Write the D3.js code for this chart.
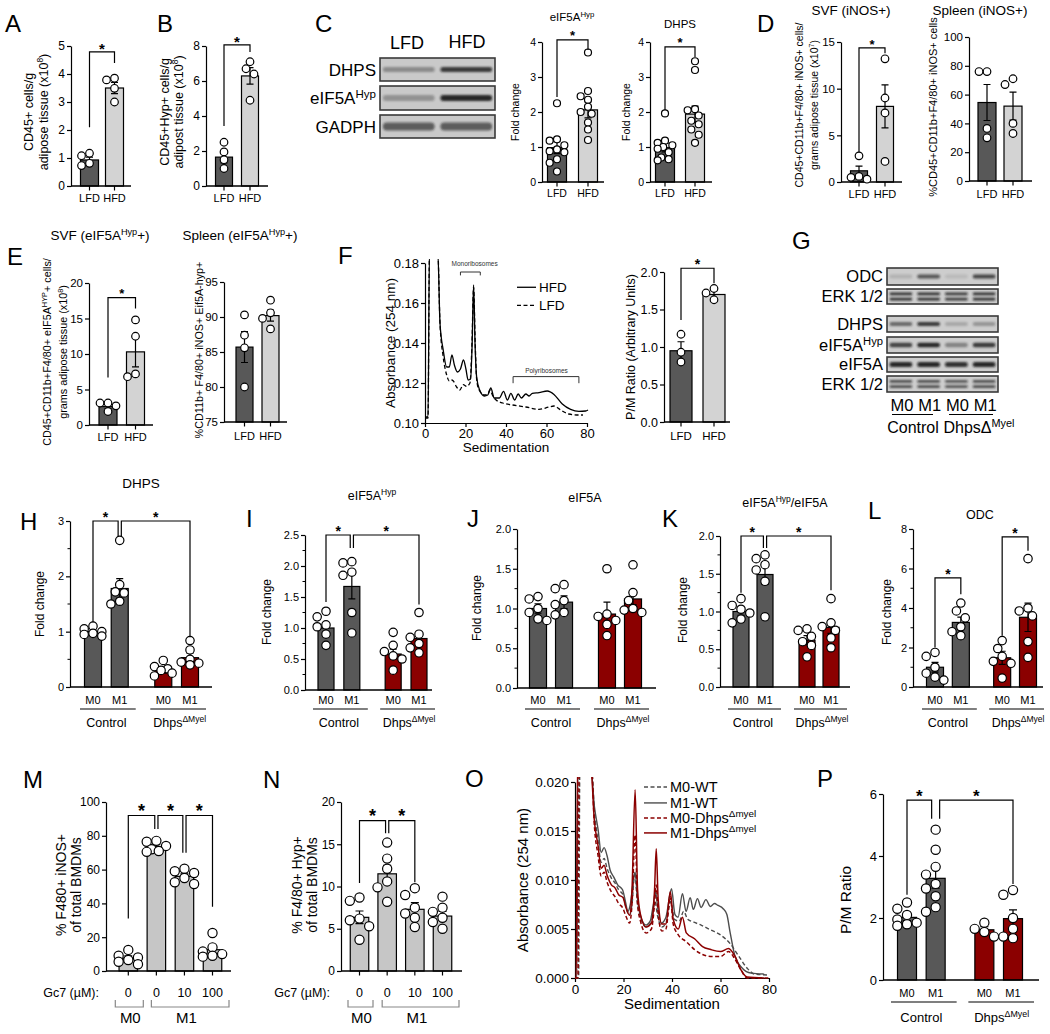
<!DOCTYPE html>
<html><head><meta charset="utf-8">
<script src="https://cdn.jsdelivr.net/npm/d3@7"></script>
<style>body{margin:0;background:#fff}svg{display:block}</style>
</head><body>
<svg id="fig" width="1050" height="1034"></svg>
<script>
// ================= DATA =================
const dietCats = ["LFD", "HFD"];
const aMeans = [0.93, 3.50], aSem = [0.10, 0.20];
const aPts = [[1.17, 1.08, 0.81, 0.73], [3.85, 3.79, 3.49, 3.00]];
const bMeans = [1.65, 6.29], bSem = [0.33, 0.47];
const bPts = [[2.50, 1.95, 1.50, 1.00], [7.10, 6.70, 6.40, 4.90]];
const cBlotRows = ["DHPS", "eIF5A^{Hyp}", "GADPH"];
const cBlotDark = [[0.35, 0.80], [0.30, 0.90], [0.60, 0.60]];
const c1Means = [0.98, 2.06], c1Sem = [0.17, 0.23];
const c1Pts = [[2.25, 1.22, 1.18, 1.05, 0.93, 0.88, 0.85, 0.65, 0.55, 0.30], [3.70, 2.60, 2.45, 2.35, 2.15, 2.00, 1.95, 1.70, 1.50, 1.20]];
const c2Means = [0.98, 1.94], c2Sem = [0.12, 0.23];
const c2Pts = [[1.96, 1.18, 1.12, 1.05, 1.00, 0.95, 0.85, 0.70, 0.65, 0.62], [3.45, 3.20, 2.08, 2.05, 1.90, 1.75, 1.65, 1.50, 1.35, 1.12]];
const d1Means = [1.2, 8.1], d1Sem = [0.5, 2.3];
const d1Pts = [[2.8, 0.6, 0.5, 0.3], [13.2, 9.0, 7.4, 2.2]];
const d2Means = [54.5, 52.0], d2Sem = [12.5, 9.7];
const d2Pts = [[76, 76, 36.5, 30], [71, 67, 40, 33]];
const e1Means = [2.6, 10.3], e1Sem = [0.3, 2.1];
const e1Pts = [[3.1, 3.1, 2.7, 1.9], [14.8, 12.5, 7.2, 6.8]];
const e2Means = [85.7, 90.2], e2Sem = [2.2, 0.8];
const e2Pts = [[90.3, 87.4, 85.6, 80.0], [92.4, 90.6, 89.8, 88.3]];
const fHFD = [[0,0.103],[1.5,0.103],[2.2,0.186],[6.3,0.186],[7.4,0.150],[9,0.1365],[10.7,0.128],[12,0.128],[13.3,0.134],[14.5,0.129],[16,0.1255],[17.5,0.127],[19,0.1315],[20.2,0.127],[21.3,0.1215],[22.5,0.122],[23.3,0.140],[24,0.169],[24.7,0.140],[25.5,0.123],[27,0.1165],[29.3,0.1135],[31,0.114],[32.5,0.1175],[34.2,0.1125],[36.7,0.1125],[38.8,0.1158],[40.7,0.1115],[42.4,0.1148],[44.3,0.1115],[46,0.1145],[47.6,0.1125],[49.8,0.1145],[51.4,0.1135],[53,0.1148],[56.3,0.1152],[60.4,0.116],[63.7,0.1143],[67.8,0.1095],[71.9,0.1068],[76,0.1058],[79.3,0.106],[80.5,0.1065]];
const fLFD = [[0,0.1025],[1.5,0.1025],[2.2,0.186],[6.3,0.186],[7.4,0.150],[9,0.133],[10.7,0.124],[12,0.121],[13.1,0.1215],[14,0.121],[15.6,0.118],[17.2,0.1165],[18.9,0.1192],[20.5,0.1183],[22.2,0.120],[23.2,0.140],[24,0.168],[24.8,0.140],[25.5,0.122],[26.5,0.117],[29.3,0.114],[31,0.1145],[32.1,0.1165],[33.5,0.1135],[35.1,0.1115],[38.4,0.110],[43.3,0.109],[49.8,0.108],[56.3,0.1068],[61.2,0.108],[63.7,0.1085],[67,0.1065],[71,0.1045],[76,0.104],[78,0.104]];
const fbMeans = [0.95, 1.70], fbSem = [0.12, 0.05];
const fbPts = [[1.17, 0.93, 0.80], [1.78, 1.72, 1.63]];
const gLanes = ["M0", "M1", "M0", "M1"];
const gRows = ["ODC", "ERK 1/2", "DHPS", "eIF5A^{Hyp}", "eIF5A", "ERK 1/2"];
const gDark = [[0.15, 0.65, 0.10, 0.75], [0.85, 0.85, 0.80, 0.85], [0.55, 0.80, 0.20, 0.30], [0.75, 0.90, 0.40, 0.80], [0.90, 0.90, 0.85, 0.90], [0.70, 0.70, 0.65, 0.70]];
const mCats = ["M0", "M1", "M0", "M1"];
const mGroups = ["Control", "Dhps^{ΔMyel}"];
const hMeans = [1.00, 1.78, 0.30, 0.53], hSem = [0.03, 0.18, 0.05, 0.08];
const hPts = [[1.10, 1.05, 1.00, 0.97, 0.95, 0.92], [2.65, 1.85, 1.72, 1.70, 1.55, 1.50], [0.48, 0.37, 0.33, 0.30, 0.25, 0.20], [0.84, 0.67, 0.50, 0.45, 0.43, 0.40]];
const iMeans = [1.00, 1.67, 0.58, 0.83], iSem = [0.08, 0.20, 0.08, 0.08];
const iPts = [[1.27, 1.18, 1.05, 1.02, 0.90, 0.72], [2.07, 2.05, 1.90, 1.85, 1.25, 0.92], [0.93, 0.72, 0.62, 0.55, 0.50, 0.32], [1.25, 0.90, 0.85, 0.75, 0.68, 0.60]];
const jMeans = [1.00, 1.08, 0.93, 1.12], jSem = [0.06, 0.08, 0.15, 0.07];
const jPts = [[1.15, 1.12, 1.00, 0.95, 0.87, 0.85], [1.30, 1.25, 1.10, 1.05, 0.95, 0.92], [1.50, 0.93, 0.90, 0.85, 0.80, 0.66], [1.55, 1.20, 1.10, 1.00, 0.98, 0.95]];
const kMeans = [1.00, 1.49, 0.62, 0.79], kSem = [0.05, 0.13, 0.06, 0.08];
const kPts = [[1.17, 1.08, 1.03, 0.98, 0.90, 0.85], [1.75, 1.70, 1.62, 1.55, 1.40, 0.93], [0.77, 0.75, 0.67, 0.60, 0.55, 0.40], [1.17, 0.85, 0.80, 0.75, 0.65, 0.52]];
const lMeans = [1.00, 3.27, 1.48, 3.53], lSem = [0.25, 0.27, 0.33, 0.72];
const lPts = [[1.75, 1.55, 1.00, 0.70, 0.50, 0.35], [4.25, 3.85, 3.50, 3.05, 2.80, 2.60], [2.35, 1.95, 1.55, 1.30, 1.20, 0.45], [6.50, 4.00, 3.85, 3.60, 2.30, 1.50]];
const gc7Cats = ["0", "0", "10", "100"];
const gc7Groups = ["M0", "M1"];
const mMeans = [7.6, 73.5, 56.0, 12.6], mSem = [1.3, 1.2, 1.5, 2.2];
const mPts = [[12.5, 9.0, 8.0, 6.5, 5.5, 4.0], [77.0, 76.5, 74.0, 72.0, 71.0, 70.5], [60.5, 59.0, 58.0, 55.0, 52.5, 51.5], [22.5, 14.0, 11.5, 10.0, 9.0, 8.5]];
const nMeans = [6.35, 11.5, 7.3, 6.5], nSem = [0.75, 1.0, 0.8, 0.55];
const nPts = [[8.7, 8.3, 6.2, 6.0, 5.3, 3.7], [15.2, 13.3, 12.1, 10.6, 9.9, 8.2], [9.8, 9.0, 7.5, 6.8, 6.3, 5.2], [8.8, 7.5, 7.0, 6.3, 5.8, 5.0]];
const oNames = ["M0-WT", "M1-WT", "M0-Dhps^{Δmyel}", "M1-Dhps^{Δmyel}"];
const oM0WT = [[0,0],[1.5,0],[2,0.0215],[6.8,0.0215],[8,0.017],[9.5,0.014],[10.8,0.0118],[12,0.0122],[13.2,0.0112],[15,0.0102],[16.5,0.0097],[18,0.009],[19.8,0.0085],[21,0.0072],[22.5,0.0064],[23.5,0.0075],[24.7,0.0108],[25.6,0.008],[27,0.0062],[29.3,0.0052],[31.5,0.0057],[33,0.0078],[34,0.0064],[35.8,0.0052],[37.5,0.0056],[39.5,0.0078],[41,0.006],[43,0.0058],[44.8,0.0068],[46.5,0.006],[49,0.0057],[52,0.0054],[56,0.0049],[60,0.0044],[64,0.0035],[67.6,0.0022],[71,0.001],[74,0.0004],[80,0.0003]];
const oM1WT = [[0,0],[0.8,0],[1.2,0.0215],[6.5,0.0215],[8,0.0175],[9.5,0.0152],[10.8,0.0128],[12,0.0133],[13.2,0.0125],[14.5,0.011],[16,0.0103],[17.6,0.0095],[19.6,0.009],[20.8,0.0078],[21.8,0.0068],[22.8,0.0075],[24,0.0098],[24.8,0.0108],[25.6,0.0085],[26.8,0.0065],[29.3,0.0054],[31,0.0058],[32.3,0.0075],[33.2,0.0088],[34.2,0.007],[35.6,0.0056],[37.5,0.0062],[39.8,0.0091],[41.2,0.0065],[42.5,0.0062],[44.3,0.0086],[45.8,0.0068],[47.5,0.0082],[48.8,0.007],[50.5,0.0081],[52,0.0072],[54,0.008],[55.8,0.0073],[57.5,0.0076],[59,0.0074],[61,0.0071],[62.6,0.0065],[64,0.0046],[66,0.0022],[69,0.001],[72.6,0.0005],[78,0.0004]];
const oM0KO = [[0,0],[1.2,0],[1.7,0.0215],[6.8,0.0215],[8,0.0155],[9.5,0.0125],[10.8,0.0104],[12,0.0108],[13.2,0.0098],[15,0.0088],[16.5,0.0083],[18,0.0076],[19.8,0.0071],[21,0.0063],[22.5,0.0056],[23.5,0.0075],[24.8,0.0146],[25.8,0.0075],[27,0.0058],[29.3,0.0046],[31.5,0.005],[32.8,0.0075],[33.5,0.0095],[34.3,0.0065],[35.8,0.0048],[37.5,0.005],[39.3,0.0083],[40.5,0.0055],[42.6,0.0044],[45.9,0.0037],[49.3,0.0029],[52.6,0.0024],[56,0.0022],[60,0.0022],[63.3,0.0027],[66,0.0019],[68.5,0.0008],[71,0],[80,0]];
const oM1KO = [[0,0],[0.5,0],[1,0.0215],[6.5,0.0215],[8,0.016],[9.5,0.0135],[10.8,0.0112],[12,0.0115],[13.2,0.0105],[15,0.0095],[16.5,0.0092],[18,0.0085],[19.8,0.0082],[21,0.0072],[22.5,0.0064],[23.5,0.009],[24.8,0.0192],[25.8,0.009],[27,0.0065],[29.3,0.0052],[31.5,0.0056],[32.8,0.009],[33.5,0.0132],[34.3,0.008],[35.8,0.0055],[37.5,0.0055],[39.3,0.0088],[40.5,0.006],[42.6,0.005],[44.3,0.0062],[45.9,0.0046],[49.3,0.004],[52.6,0.0032],[56,0.0029],[60,0.0027],[63.3,0.003],[66,0.0022],[68.5,0.0008],[71,0.0001],[78,0]];
const pMeans = [2.02, 3.28, 1.62, 1.98], pSem = [0.10, 0.32, 0.10, 0.28];
const pPts = [[2.5, 2.3, 2.1, 1.95, 1.85, 1.8, 1.75], [4.85, 4.2, 3.65, 3.4, 3.1, 2.95, 2.7, 2.35, 2.2], [1.85, 1.65, 1.55, 1.4], [2.9, 2.75, 2.0, 1.65, 1.4, 1.35]];

// ================= STYLE =================
const FONT = '"Liberation Sans", Arial, Helvetica, sans-serif';
const NARROW = '"Liberation Sans Narrow", "Liberation Sans", Arial, sans-serif';
const DARK = '#585858', LIGHT = '#d3d3d3', LIGHTM = '#c6c6c6', RED = '#8b0000', WTG = '#4d4d4d';
const svg = d3.select('#fig');
svg.append('rect').attr('width', 1050).attr('height', 1034).attr('fill', '#fff');
const defs = svg.append('defs');
defs.append('filter').attr('id', 'blur').attr('x', '-20%').attr('y', '-100%').attr('width', '140%').attr('height', '300%')
  .append('feGaussianBlur').attr('stdDeviation', 1.1);
let clipN = 0;

function rich(t, str, fs) {
  const parts = str.split(/(\^\{[^}]*\})/).filter(p => p.length);
  let shift = 0;
  parts.forEach(p => {
    const m = p.match(/^\^\{([^}]*)\}$/);
    if (m) { t.append('tspan').attr('dy', -fs * 0.38).attr('font-size', fs * 0.68).text(m[1]); shift = fs * 0.38; }
    else { const s = t.append('tspan').text(p); if (shift) { s.attr('dy', shift); shift = 0; } }
  });
}
function txt(g, x, y, str, o = {}) {
  const fs = o.fs || 12;
  const t = g.append('text').attr('x', x).attr('y', y).attr('font-size', fs)
    .attr('text-anchor', o.anchor || 'middle').attr('font-family', o.font || FONT).attr('fill', o.fill || '#000');
  rich(t, str, fs);
  return t;
}
function vtxt(g, xc, yc, str, fs, font) {
  const t = g.append('text').attr('transform', `translate(${xc + fs * 0.36},${yc}) rotate(-90)`)
    .attr('text-anchor', 'middle').attr('font-size', fs).attr('font-family', font || FONT).attr('fill', '#000');
  rich(t, str, fs);
}
function letter(x, y, s) { txt(svg, x, y, s, { fs: 24, anchor: 'start' }); }

function dodge(vals, y, r, maxOff) {
  const order = vals.map((v, i) => i).sort((a, b) => vals[b] - vals[a]);
  const placed = [], off = new Array(vals.length).fill(0);
  const cands = [0, -1, 1, -2, 2, -0.5, 0.5, -1.5, 1.5];
  order.forEach(i => {
    const py = y(vals[i]);
    let best = 0, bestOv = Infinity;
    for (const c of cands) {
      let px = c * r * 1.05;
      if (Math.abs(px) > maxOff) continue;
      let ov = 0;
      placed.forEach(p => { const d = Math.hypot(p[0] - px, p[1] - py); if (d < 2 * r) ov += 2 * r - d; });
      if (ov === 0) { best = px; bestOv = 0; break; }
      if (ov < bestOv) { bestOv = ov; best = px; }
    }
    off[i] = best; placed.push([best, py]);
  });
  return off;
}

function barChart(c) {
  const g = svg.append('g');
  const y = d3.scaleLinear().domain(c.domain).range([c.y0, c.y1]);
  const x = d3.scaleLinear().domain([c.slots[0], c.slots[c.slots.length - 1]]).range(c.cx);
  const X = i => x(c.slots[i]);
  const ax = d3.axisLeft(y).tickValues(c.ticks).tickFormat(c.fmt || (d => d)).tickSize(c.tl || 4).tickSizeOuter(0).tickPadding(2);
  const a = g.append('g').attr('transform', `translate(${c.axisX},0)`).call(ax);
  a.attr('font-family', c.tickFont || FONT).attr('font-size', c.tickFs || 12);
  a.selectAll('.domain, .tick line').attr('stroke', '#000').attr('stroke-width', 1.2);
  a.selectAll('text').attr('fill', '#000');
  if (c.minor) g.selectAll('line.mn').data(c.minor).join('line').attr('class', 'mn')
    .attr('x1', c.axisX).attr('x2', c.axisX - 2.5).attr('y1', d => y(d)).attr('y2', d => y(d)).attr('stroke', '#000');
  const base = c.domain[0];
  g.selectAll('rect.bar').data(c.means).join('rect').attr('class', 'bar')
    .attr('x', (d, i) => X(i) - c.barW / 2).attr('y', d => y(d)).attr('width', c.barW)
    .attr('height', d => y(base) - y(d)).attr('fill', (d, i) => c.colors[i]).attr('stroke', '#000').attr('stroke-width', 1.2);
  g.append('line').attr('x1', c.axisX).attr('x2', c.xEnd).attr('y1', c.y0).attr('y2', c.y0).attr('stroke', '#000').attr('stroke-width', 1.3);
  const cw = c.capW || 7;
  g.selectAll('path.err').data(c.means).join('path').attr('class', 'err')
    .attr('d', (m, i) => { const xc = X(i), t = y(m + c.sem[i]), b = y(Math.max(base, m - c.sem[i]));
      return `M${xc},${b}V${t}M${xc - cw / 2},${t}H${xc + cw / 2}M${xc - cw / 2},${b}H${xc + cw / 2}`; })
    .attr('stroke', '#000').attr('stroke-width', 1.2).attr('fill', 'none');
  const r = c.r || 3.8;
  c.pts.forEach((vals, i) => {
    const off = dodge(vals, y, r, c.barW / 2 + 1);
    g.selectAll(null).data(vals).join('circle').attr('cx', (v, k) => X(i) + off[k]).attr('cy', v => y(v)).attr('r', r)
      .attr('fill', '#fff').attr('stroke', '#000').attr('stroke-width', 1.2);
  });
  if (c.xTicks) c.means.forEach((m, i) => g.append('line').attr('x1', X(i)).attr('x2', X(i)).attr('y1', c.y0).attr('y2', c.y0 + 4.5).attr('stroke', '#000').attr('stroke-width', 1.2));
  c.xLabels.forEach((s, i) => txt(g, X(i), c.xLabY, s, { fs: c.xFs || 12, font: c.xFont || FONT }));
  if (c.groups) c.groups.forEach((gr, k) => {
    const a0 = X(c.grpIdx[k][0]), b0 = X(c.grpIdx[k][1]);
    g.append('line').attr('x1', a0 + c.ulL).attr('x2', b0 + c.ulR).attr('y1', c.ulY).attr('y2', c.ulY).attr('stroke', '#000').attr('stroke-width', 1.2);
    txt(g, (a0 + b0) / 2 + (k ? 3 : 0), c.grpY, gr, { fs: c.grpFs || 12, font: c.grpFont || FONT });
  });
  if (c.sub) c.sub.forEach((s, k) => {
    const l = X(s.a) + s.l, rr = X(s.b) + s.r;
    g.append('path').attr('d', `M${l},${c.subY}V${c.subY + 7}H${rr}V${c.subY}`).attr('fill', 'none').attr('stroke', '#888').attr('stroke-width', 1.2);
    txt(g, (X(s.a) + X(s.b)) / 2 + 2, c.subLabY, c.subNames[k], { fs: c.subFs || 14 });
  });
  if (c.gc7) txt(g, c.gc7.x, c.xLabY, 'Gc7 (µM):', { fs: c.gc7.fs, anchor: 'end' });
  const sfs = c.starFs || 15, gap = c.starGap || 7;
  (c.sig || []).forEach(s => {
    const xa = X(s.a) + (s.oa || 0), xb = X(s.b) + (s.ob || 0), yt = y(s.top);
    g.append('path').attr('d', `M${xa},${y(s.da)}V${yt}H${xb}V${y(s.db)}`).attr('fill', 'none').attr('stroke', '#000').attr('stroke-width', 1.2);
    g.append('text').attr('x', (xa + xb) / 2).attr('y', yt - gap + 0.58 * sfs).attr('text-anchor', 'middle')
      .attr('font-size', sfs).attr('font-family', FONT).attr('font-weight', 'bold').text('*');
  });
  if (c.title) txt(g, c.titleX, c.titleY, c.title, { fs: c.titleFs || 12 });
  if (c.yLabel) c.yLabel.forEach((s, k) => vtxt(g, c.yLabX[k], c.yLabY, s, c.yLabFs || 12));
}

function lineChart(c) {
  const g = svg.append('g');
  const x = d3.scaleLinear().domain(c.xd).range(c.xr);
  const y = d3.scaleLinear().domain(c.yd).range(c.yr);
  const ay = g.append('g').attr('transform', `translate(${c.xr[0]},0)`)
    .call(d3.axisLeft(y).tickValues(c.yTicks).tickFormat(d3.format(c.yFmt)).tickSize(4).tickSizeOuter(0).tickPadding(2));
  const axx = g.append('g').attr('transform', `translate(0,${c.yr[0]})`)
    .call(d3.axisBottom(x).tickValues(c.xTicks).tickFormat(d3.format('d')).tickSize(4).tickSizeOuter(0).tickPadding(2));
  [ay, axx].forEach(a => { a.attr('font-family', FONT).attr('font-size', c.tickFs);
    a.selectAll('.domain, .tick line').attr('stroke', '#000').attr('stroke-width', 1.2); a.selectAll('text').attr('fill', '#000'); });
  const id = 'clip' + (clipN++);
  defs.append('clipPath').attr('id', id).append('rect').attr('x', c.xr[0] - 2).attr('y', c.yr[1] - c.over)
    .attr('width', c.xr[1] - c.xr[0] + 10).attr('height', c.yr[0] - c.yr[1] + c.over + 2);
  const pg = g.append('g').attr('clip-path', `url(#${id})`);
  const line = d3.line().x(d => x(d[0])).y(d => y(d[1])).curve(d3.curveMonotoneX);
  c.series.forEach(s => pg.append('path').datum(s.data).attr('d', line).attr('fill', 'none')
    .attr('stroke', s.color).attr('stroke-width', s.w || 1.4).attr('stroke-dasharray', s.dash || null));
  txt(g, c.xLab.x, c.xLab.y, 'Sedimentation', { fs: c.labFs });
  vtxt(g, c.yLab.x, c.yLab.y, 'Absorbance (254 nm)', c.labFs);
  c.series.forEach((s, k) => {
    const ly = c.leg.y[k];
    g.append('line').attr('x1', c.leg.x0).attr('x2', c.leg.x1).attr('y1', ly - c.leg.fs * 0.35).attr('y2', ly - c.leg.fs * 0.35)
      .attr('stroke', s.color).attr('stroke-width', s.w || 1.4).attr('stroke-dasharray', s.dash || null);
    txt(g, c.leg.tx, ly, s.name, { fs: c.leg.fs, anchor: 'start' });
  });
  return { g, x, y };
}

function blot(x0, w, rows, dark, lanes, o) {
  const g = svg.append('g');
  const lw = w / lanes;
  rows.forEach((r, k) => {
    g.append('rect').attr('x', x0).attr('y', r.y).attr('width', w).attr('height', r.h).attr('fill', o.bg).attr('stroke', '#3a3a3a').attr('stroke-width', 1.6);
    dark[k].forEach((d, j) => {
      const cx = x0 + lw * (j + 0.5), cy = r.y + r.h / 2;
      const bands = r.dbl ? [-2.6, 2.6] : [0];
      bands.forEach(dy => g.append('rect').attr('x', cx - lw * o.bw / 2).attr('y', cy + dy - r.bh / 2).attr('width', lw * o.bw).attr('height', r.bh)
        .attr('rx', r.bh / 2).attr('fill', '#141414').attr('opacity', d).attr('filter', 'url(#blur)'));
    });
    txt(g, x0 - 4, r.y + r.h / 2 + o.fs * 0.36, r.label, { fs: o.fs, anchor: 'end' });
  });
  return g;
}

// ================= PANEL A/B =================
letter(5, 32, 'A'); letter(157, 32, 'B'); letter(315, 32, 'C'); letter(757, 32, 'D');
barChart({ axisX: 71, xEnd: 131, y0: 186, y1: 46, domain: [0, 5], ticks: [0, 1, 2, 3, 4, 5], slots: [0, 1], cx: [89.5, 114.5],
  barW: 18, r: 3.8, colors: [DARK, LIGHT], means: aMeans, sem: aSem, pts: aPts, xLabels: dietCats, xLabY: 202, xFs: 11, xTicks: true,
  tickFs: 12, sig: [{ a: 0, b: 1, top: 4.79, da: 2.1, db: 4.39 }], yLabel: ['CD45+ cells/g', 'adipose tissue (x10^{8})'], yLabX: [28, 43], yLabY: 112, yLabFs: 12.5 });
barChart({ axisX: 206, xEnd: 268, y0: 186, y1: 46, domain: [0, 8], ticks: [0, 2, 4, 6, 8], slots: [0, 1], cx: [224, 250],
  barW: 17, r: 3.8, colors: [DARK, LIGHT], means: bMeans, sem: bSem, pts: bPts, xLabels: dietCats, xLabY: 202, xFs: 11, xTicks: true,
  tickFs: 12, sig: [{ a: 0, b: 1, top: 8.06, da: 3.43, db: 7.66 }], yLabel: ['CD45+Hyp+ cells/g', 'adipost tissue (x10^{8})'], yLabX: [164, 178], yLabY: 112, yLabFs: 12.5 });

// ================= PANEL C =================
txt(svg, 407, 49, dietCats[0], { fs: 18 }); txt(svg, 467, 48, dietCats[1], { fs: 18 });
blot(380, 115, [{ y: 58, h: 23, bh: 5, label: cBlotRows[0] }, { y: 86, h: 24, bh: 6, label: cBlotRows[1] }, { y: 115, h: 23, bh: 8, label: cBlotRows[2] }],
  cBlotDark, 2, { bg: '#c9c9c9', bw: 0.9, fs: 17 });
barChart({ axisX: 542, xEnd: 604, y0: 182, y1: 42, domain: [0, 4], ticks: [0, 1, 2, 3, 4], slots: [0, 1], cx: [557, 588],
  barW: 19, r: 3.5, colors: [DARK, LIGHT], means: c1Means, sem: c1Sem, pts: c1Pts, xLabels: dietCats, xLabY: 197, xFs: 10.5, xTicks: true,
  tickFs: 10.5, sig: [{ a: 0, b: 1, top: 4.06, da: 2.43, db: 3.77 }], starFs: 13, title: 'eIF5A^{Hyp}', titleX: 572, titleY: 21, titleFs: 11.5,
  yLabel: ['Fold change'], yLabX: [515], yLabY: 112, yLabFs: 10.5 });
barChart({ axisX: 650, xEnd: 712, y0: 182, y1: 42, domain: [0, 4], ticks: [0, 1, 2, 3, 4], slots: [0, 1], cx: [665, 695],
  barW: 19, r: 3.5, colors: [DARK, LIGHT], means: c2Means, sem: c2Sem, pts: c2Pts, xLabels: dietCats, xLabY: 197, xFs: 10.5, xTicks: true,
  tickFs: 10.5, sig: [{ a: 0, b: 1, top: 3.86, da: 2.06, db: 3.57 }], starFs: 13, title: 'DHPS', titleX: 680, titleY: 28, titleFs: 11.5,
  yLabel: ['Fold change'], yLabX: [626], yLabY: 112, yLabFs: 10.5 });

// ================= PANEL D =================
barChart({ axisX: 841, xEnd: 902, y0: 182, y1: 42, domain: [0, 15], ticks: [0, 5, 10, 15], slots: [0, 1], cx: [859, 885],
  barW: 17, r: 3.8, colors: [DARK, LIGHT], means: d1Means, sem: d1Sem, pts: d1Pts, xLabels: dietCats, xLabY: 198, xFs: 11, xTicks: true,
  tickFs: 11.5, sig: [{ a: 0, b: 1, top: 14.36, da: 3.2, db: 13.8 }], starFs: 13, title: 'SVF (iNOS+)', titleX: 851, titleY: 15, titleFs: 13.5,
  yLabel: ['CD45+CD11b+F4/80+ iNOS+ cells/', 'grams adipose tissue (x10^{7})'], yLabX: [799, 814], yLabY: 105, yLabFs: 10.5 });
barChart({ axisX: 969, xEnd: 1032, y0: 181, y1: 37, domain: [0, 100], ticks: [0, 20, 40, 60, 80, 100], slots: [0, 1], cx: [987, 1013],
  barW: 18, r: 3.8, colors: [DARK, LIGHT], means: d2Means, sem: d2Sem, pts: d2Pts, xLabels: dietCats, xLabY: 198, xFs: 11, xTicks: true,
  tickFs: 11.5, title: 'Spleen (iNOS+)', titleX: 980, titleY: 15, titleFs: 13.5,
  yLabel: ['%CD45+CD11b+F4/80+ iNOS+ cells'], yLabX: [933], yLabY: 107, yLabFs: 11 });

// ================= PANEL E =================
letter(7, 265, 'E'); letter(338, 264, 'F'); letter(792, 249, 'G');
barChart({ axisX: 89, xEnd: 153, y0: 425, y1: 283, domain: [0, 20], ticks: [0, 5, 10, 15, 20], slots: [0, 1], cx: [108, 135.5],
  barW: 18, r: 3.8, colors: [DARK, LIGHT], means: e1Means, sem: e1Sem, pts: e1Pts, xLabels: dietCats, xLabY: 441, xFs: 11, xTicks: true,
  tickFs: 11.5, sig: [{ a: 0, b: 1, top: 17.95, da: 6.7, db: 16.4 }], starFs: 13, title: 'SVF (eIF5A^{Hyp}+)', titleX: 100, titleY: 240, titleFs: 13.5,
  yLabel: ['CD45+CD11b+F4/80+ eIF5A^{HYP}+ cells/', 'grams adipose tissue (x10^{8})'], yLabX: [47, 63], yLabY: 352, yLabFs: 10.8 });
barChart({ axisX: 224, xEnd: 287, y0: 422, y1: 282, domain: [75, 95], ticks: [75, 80, 85, 90, 95], slots: [0, 1], cx: [244.5, 270.5],
  barW: 17, r: 3.8, colors: [DARK, LIGHT], means: e2Means, sem: e2Sem, pts: e2Pts, xLabels: dietCats, xLabY: 440, xFs: 11, xTicks: true,
  tickFs: 11.5, title: 'Spleen (eIF5A^{Hyp}+)', titleX: 240, titleY: 240, titleFs: 13.5,
  yLabel: ['%CD11b+ F4/80+ iNOS+ Eif5A-hyp+'], yLabX: [199], yLabY: 350, yLabFs: 10.8 });

// ================= PANEL F =================
const fc = lineChart({ xd: [0, 80], xr: [425, 587], yd: [0.10, 0.18], yr: [423, 263], yTicks: [0.10, 0.12, 0.14, 0.16, 0.18], yFmt: '.2f',
  xTicks: [0, 20, 40, 60, 80], tickFs: 13, labFs: 13.5, xLab: { x: 506, y: 452 }, yLab: { x: 390, y: 343 }, over: 4,
  series: [{ name: 'HFD', data: fHFD, color: '#000', w: 1.3 }, { name: 'LFD', data: fLFD, color: '#000', w: 1.3, dash: '4,2.5' }],
  leg: { x0: 517, x1: 536, tx: 539, y: [292, 310], fs: 13.5 } });
{
  const g = fc.g, x = fc.x, y = fc.y;
  g.append('path').attr('d', `M${x(17.5)},${y(0.1738)}V${y(0.1755)}H${x(27.3)}V${y(0.1738)}`).attr('fill', 'none').attr('stroke', '#333');
  txt(g, x(24.5), 266, 'Monoribosomes', { fs: 6.5, fill: '#333' });
  g.append('path').attr('d', `M${x(43.5)},${y(0.1199)}V${y(0.1232)}H${x(76)}V${y(0.1199)}`).attr('fill', 'none').attr('stroke', '#333');
  txt(g, x(60), 373, 'Polyribosomes', { fs: 6.5, fill: '#333' });
}
barChart({ axisX: 664, xEnd: 730, y0: 422, y1: 272, domain: [0, 2], ticks: [0, 0.5, 1, 1.5, 2], fmt: d3.format('.1f'), slots: [0, 1], cx: [681, 714],
  barW: 22, r: 3.8, colors: [DARK, LIGHT], means: fbMeans, sem: fbSem, pts: fbPts, xLabels: dietCats, xLabY: 440, xFs: 11.5, xTicks: true,
  tickFs: 12.5, sig: [{ a: 0, b: 1, top: 2.05, da: 1.36, db: 1.85 }], starFs: 14,
  yLabel: ['P/M Ratio (Arbitrary Units)'], yLabX: [630], yLabY: 347, yLabFs: 12.5 });

// ================= PANEL G =================
{
  const gb = blot(887, 111, [
    { y: 268, h: 17, bh: 4, label: gRows[0] }, { y: 289, h: 15, bh: 2.6, dbl: true, label: gRows[1] },
    { y: 316, h: 16, bh: 4, label: gRows[2] }, { y: 337, h: 16, bh: 4.5, label: gRows[3] },
    { y: 357, h: 15, bh: 5, label: gRows[4] }, { y: 376, h: 16, bh: 2.6, dbl: true, label: gRows[5] }],
    gDark, 4, { bg: '#cdcdcd', bw: 0.82, fs: 16.5 });
  const lw = 111 / 4;
  gLanes.forEach((s, j) => txt(gb, 887 + lw * (j + 0.5) + 1, 411, s, { fs: 16.5 }));
  gb.append('line').attr('x1', 892).attr('x2', 933).attr('y1', 414.5).attr('y2', 414.5).attr('stroke', '#000').attr('stroke-width', 1.2);
  gb.append('line').attr('x1', 949).attr('x2', 993).attr('y1', 414.5).attr('y2', 414.5).attr('stroke', '#000').attr('stroke-width', 1.2);
  txt(gb, 913, 433, 'Control', { fs: 16 });
  txt(gb, 979, 433, 'DhpsΔ^{Myel}', { fs: 16 });
}

// ================= ROW 3 =================
letter(20, 530, 'H'); letter(246, 527, 'I'); letter(467, 527, 'J'); letter(662, 527, 'K'); letter(868, 519, 'L');
const row3 = { colors: [DARK, DARK, RED, RED], xLabels: mCats, xLabY: 704, xFs: 11, xFont: NARROW, groups: mGroups, grpIdx: [[0, 1], [2, 3]],
  ulY: 709, ulL: -13, ulR: 16, grpY: 727, grpFs: 12.5, tickFs: 11, r: 4.2, starFs: 14, yLabFs: 12, capW: 7 };
barChart(Object.assign({}, row3, { axisX: 70, xEnd: 212, y0: 687, y1: 521, domain: [0, 3], ticks: [0, 1, 2, 3], minor: [0.5, 1.5, 2.5],
  slots: [0, 1, 2.63, 3.63], cx: [93, 190], barW: 17, means: hMeans, sem: hSem, pts: hPts, title: 'DHPS', titleX: 141, titleY: 488, titleFs: 13.5,
  yLabel: ['Fold change'], yLabX: [40], yLabY: 604,
  sig: [{ a: 0, b: 1, top: 3, da: 1.17, db: 2.72, ob: -1.6 }, { a: 1, b: 3, top: 3, da: 2.72, db: 0.9, oa: 1.6 }] }));
barChart(Object.assign({}, row3, { axisX: 305, xEnd: 432, y0: 690, y1: 535, domain: [0, 2.5], ticks: [0, 0.5, 1, 1.5, 2, 2.5], fmt: d3.format('.1f'),
  minor: [0.25, 0.75, 1.25, 1.75, 2.25], slots: [0, 1, 2.6, 3.6], cx: [326, 419], barW: 16, means: iMeans, sem: iSem, pts: iPts,
  title: 'eIF5A^{Hyp}', titleX: 372, titleY: 500, titleFs: 12.5, yLabel: ['Fold change'], yLabX: [267], yLabY: 612,
  sig: [{ a: 0, b: 1, top: 2.5, da: 1.42, db: 2.29, ob: -1.6 }, { a: 1, b: 3, top: 2.5, da: 2.29, db: 1.38, oa: 1.6 }] }));
barChart(Object.assign({}, row3, { axisX: 517, xEnd: 656, y0: 688, y1: 529, domain: [0, 2], ticks: [0, 0.5, 1, 1.5, 2], fmt: d3.format('.1f'),
  minor: [0.25, 0.75, 1.25, 1.75], slots: [0, 1, 2.65, 3.65], cx: [538, 633], barW: 17, means: jMeans, sem: jSem, pts: jPts,
  title: 'eIF5A', titleX: 585, titleY: 502, titleFs: 12.5, yLabel: ['Fold change'], yLabX: [477], yLabY: 608 }));
barChart(Object.assign({}, row3, { axisX: 720, xEnd: 850, y0: 687, y1: 536, domain: [0, 2], ticks: [0, 0.5, 1, 1.5, 2], fmt: d3.format('.1f'),
  minor: [0.25, 0.75, 1.25, 1.75], slots: [0, 1, 2.75, 3.75], cx: [741, 831], barW: 16, means: kMeans, sem: kSem, pts: kPts,
  title: 'eIF5A^{Hyp}/eIF5A', titleX: 785, titleY: 507, titleFs: 12.5, yLabel: ['Fold change'], yLabX: [683], yLabY: 610,
  sig: [{ a: 0, b: 1, top: 2, da: 1.25, db: 1.84, ob: -1.6 }, { a: 1, b: 3, top: 2, da: 1.84, db: 1.28, oa: 1.6 }] }));
barChart(Object.assign({}, row3, { axisX: 913, xEnd: 1043, y0: 687, y1: 529, domain: [0, 8], ticks: [0, 2, 4, 6, 8],
  minor: [1, 3, 5, 7], slots: [0, 1, 2.6, 3.6], cx: [935, 1028], barW: 17, means: lMeans, sem: lSem, pts: lPts,
  title: 'ODC', titleX: 980, titleY: 519, titleFs: 12.5, yLabel: ['Fold change'], yLabX: [887], yLabY: 612,
  sig: [{ a: 0, b: 1, top: 5.53, da: 2.0, db: 4.7 }, { a: 2, b: 3, top: 7.6, da: 2.6, db: 6.9 }] }));

// ================= ROW 4 =================
letter(23, 788, 'M'); letter(263, 788, 'N'); letter(465, 787, 'O'); letter(817, 787, 'P');
const row4 = { colors: [LIGHTM, LIGHTM, LIGHTM, LIGHTM], xLabels: gc7Cats, xLabY: 997, xFs: 12.5, xTicks: true, tickFs: 12, r: 4.6, barW: 18.5,
  starFs: 18, starGap: 9, yLabFs: 14, subY: 1000, subLabY: 1023, subNames: gc7Groups, subFs: 15, capW: 8 };
barChart(Object.assign({}, row4, { axisX: 106, xEnd: 231, y0: 971, y1: 802, domain: [0, 100], ticks: [0, 20, 40, 60, 80, 100],
  slots: [0, 1, 2, 3], cx: [128.3, 212.5], means: mMeans, sem: mSem, pts: mPts, gc7: { x: 99, fs: 12.5 },
  sub: [{ a: 0, b: 0, l: -13, r: 15 }, { a: 1, b: 3, l: -5, r: 16.5 }],
  yLabel: ['% F480+ iNOS+', 'of total BMDMs'], yLabX: [61, 76], yLabY: 885,
  sig: [{ a: 0, b: 1, top: 92, da: 31, db: 84, ob: -1.6 }, { a: 1, b: 2, top: 92, da: 84, db: 70, oa: 1.6, ob: -1.6 }, { a: 2, b: 3, top: 92, da: 70, db: 38, oa: 1.6 }] }));
barChart(Object.assign({}, row4, { axisX: 341, xEnd: 462, y0: 971, y1: 802, domain: [0, 20], ticks: [0, 5, 10, 15, 20],
  slots: [0, 1, 2, 3], cx: [359.5, 442.5], means: nMeans, sem: nSem, pts: nPts, gc7: { x: 330, fs: 12.5 },
  sub: [{ a: 0, b: 0, l: -11.5, r: 13.5 }, { a: 1, b: 3, l: -5, r: 16.5 }],
  yLabel: ['% F4/80+ Hyp+', 'of total BMDMs'], yLabX: [297, 312], yLabY: 885,
  sig: [{ a: 0, b: 1, top: 17.8, da: 10.4, db: 16.3, ob: -1.6 }, { a: 1, b: 2, top: 17.8, da: 16.3, db: 10.5, oa: 1.6 }] }));

lineChart({ xd: [0, 80], xr: [575, 769], yd: [0, 0.020], yr: [978, 782], yTicks: [0, 0.005, 0.010, 0.015, 0.020], yFmt: '.3f',
  xTicks: [0, 20, 40, 60, 80], tickFs: 13.5, labFs: 15, xLab: { x: 672, y: 1009 }, yLab: { x: 523, y: 880 }, over: 5,
  series: [{ name: oNames[0], data: oM0WT, color: WTG, w: 1.4, dash: '4,2.5' }, { name: oNames[1], data: oM1WT, color: WTG, w: 1.4 },
    { name: oNames[2], data: oM0KO, color: RED, w: 1.5, dash: '4,2.5' }, { name: oNames[3], data: oM1KO, color: RED, w: 1.5 }],
  leg: { x0: 644, x1: 667, tx: 670, y: [792, 808, 823, 838], fs: 14.5 } });

barChart({ axisX: 883, xEnd: 1039, y0: 980, y1: 794, domain: [0, 6], ticks: [0, 2, 4, 6], slots: [0, 1, 2.7, 3.7], cx: [907, 1013],
  barW: 19, r: 4.6, colors: [DARK, DARK, RED, RED], means: pMeans, sem: pSem, pts: pPts, xLabels: mCats, xLabY: 997, xFs: 11, xFont: NARROW,
  groups: mGroups, grpIdx: [[0, 1], [2, 3]], ulY: 1002, ulL: -16, ulR: 21, grpY: 1022, grpFs: 13, tickFs: 13, capW: 8,
  starFs: 17, starGap: 8, yLabel: ['P/M Ratio'], yLabX: [845], yLabY: 900, yLabFs: 15.5,
  sig: [{ a: 0, b: 1, top: 5.8, da: 2.75, db: 5.2, ob: -4 }, { a: 1, b: 3, top: 5.8, da: 5.2, db: 3.1, oa: 4 }] });
</script>
</body></html>
